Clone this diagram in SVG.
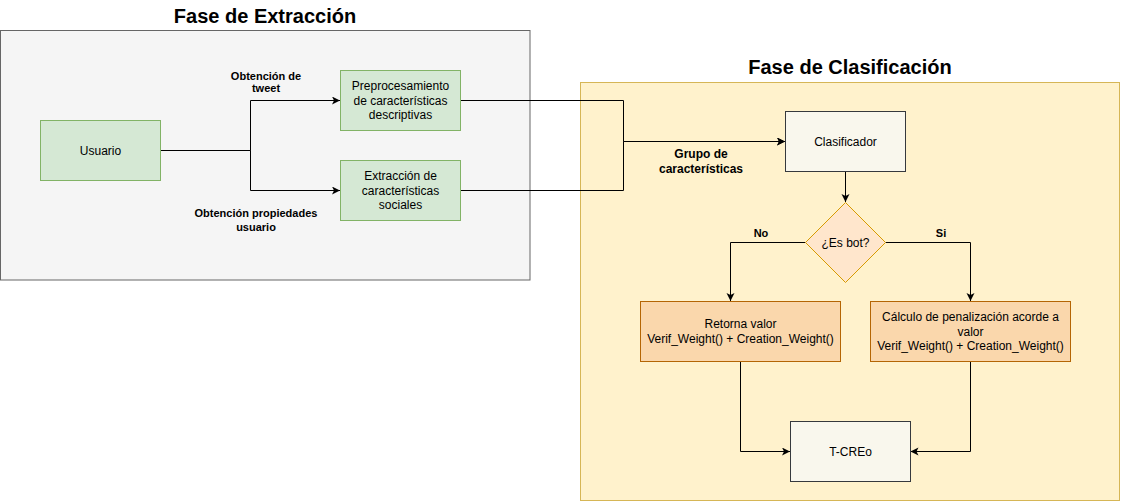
<svg xmlns="http://www.w3.org/2000/svg" width="1121" height="502" viewBox="0 0 1121 502">
<style>
.t{font-family:"Liberation Sans",Arial,Helvetica,sans-serif;font-size:12px;fill:#000;text-anchor:middle}
.lb{font-family:"Liberation Sans",Arial,Helvetica,sans-serif;font-size:11px;font-weight:bold;fill:#000;text-anchor:middle}
.lb12{font-size:12px}
.ttl{font-family:"Liberation Sans",Arial,Helvetica,sans-serif;font-size:20px;font-weight:bold;fill:#000;text-anchor:middle}
.green{fill:#d5e8d4;stroke:#82b366;stroke-width:1}
.grey{fill:#f9f7ed;stroke:#36393d;stroke-width:1}
.orange{fill:#fad7ac;stroke:#b46504;stroke-width:1}
.edge{fill:none;stroke:#000;stroke-width:1}
</style>
<defs>
<marker id="arr" markerUnits="userSpaceOnUse" markerWidth="10" markerHeight="10" refX="8" refY="4" orient="auto">
<path d="M0,0 L8,4 L0,8 L2,4 Z" fill="#000"/>
</marker>
</defs>
<g id="fase-extraccion">
<rect x="0.5" y="30.5" width="529.5" height="249.5" fill="#f5f5f5" stroke="#666666"/>
<text class="ttl" x="265" y="23">Fase de Extracción</text>
</g>
<g id="fase-clasificacion">
<rect x="580.5" y="82.5" width="539" height="418" fill="#fff2cc" stroke="#d6b656"/>
<text class="ttl" x="850" y="74">Fase de Clasificación</text>
</g>
<g id="connectors">
<path class="edge" d="M160.5,150.5 H250.5 V100.5 H340" marker-end="url(#arr)"/>
<path class="edge" d="M160.5,150.5 H250.5 V190.5 H340" marker-end="url(#arr)"/>
<path class="edge" d="M460.5,100.5 H623.5 V141.5 H785" marker-end="url(#arr)"/>
<path class="edge" d="M460.5,190.5 H623.5 V141.5 H785" marker-end="url(#arr)"/>
<path class="edge" d="M845.5,171.5 V202" marker-end="url(#arr)"/>
<path class="edge" d="M805.5,242.5 H730.5 V301" marker-end="url(#arr)"/>
<path class="edge" d="M885.5,242.5 H970.5 V301" marker-end="url(#arr)"/>
<path class="edge" d="M740.5,361.5 V451.5 H790" marker-end="url(#arr)"/>
<path class="edge" d="M970.5,361.5 V451.5 H910.5" marker-end="url(#arr)"/>
<text class="lb" x="266" y="80">Obtención de</text>
<text class="lb" x="266" y="92">tweet</text>
<text class="lb" x="256" y="217">Obtención propiedades</text>
<text class="lb" x="256" y="231">usuario</text>
<text class="lb lb12" x="701" y="158">Grupo de</text>
<text class="lb lb12" x="701" y="172.5">características</text>
<text class="lb" x="761" y="237">No</text>
<text class="lb" x="941" y="237">Si</text>
</g>
<g id="usuario">
<rect class="green" x="40.5" y="120.5" width="120" height="60"/>
<text class="t" x="100.5" y="155">Usuario</text>
</g>
<g id="preprocesamiento">
<rect class="green" x="340.5" y="70.5" width="120" height="60"/>
<text class="t" x="400.5" y="90">Preprocesamiento</text>
<text class="t" x="400.5" y="104.5">de características</text>
<text class="t" x="400.5" y="119">descriptivas</text>
</g>
<g id="extraccion">
<rect class="green" x="340.5" y="160.5" width="120" height="60"/>
<text class="t" x="400.5" y="180">Extracción de</text>
<text class="t" x="400.5" y="194.5">características</text>
<text class="t" x="400.5" y="209">sociales</text>
</g>
<g id="clasificador">
<rect class="grey" x="785.5" y="111.5" width="120" height="60"/>
<text class="t" x="845.5" y="146">Clasificador</text>
</g>
<g id="es-bot">
<path d="M845.5,202.5 L885.5,242.5 L845.5,282.5 L805.5,242.5 Z" fill="#ffe6cc" stroke="#d79b00"/>
<text class="t" x="845.5" y="247">¿Es bot?</text>
</g>
<g id="retorna">
<rect class="orange" x="640.5" y="301.5" width="200" height="60"/>
<text class="t" x="740.5" y="328">Retorna valor</text>
<text class="t" x="740.5" y="342.5">Verif_Weight() + Creation_Weight()</text>
</g>
<g id="calculo">
<rect class="orange" x="870.5" y="301.5" width="200" height="60"/>
<text class="t" x="970.5" y="321">Cálculo de penalización acorde a</text>
<text class="t" x="970.5" y="335.5">valor</text>
<text class="t" x="970.5" y="350">Verif_Weight() + Creation_Weight()</text>
</g>
<g id="tcreo">
<rect class="grey" x="790.5" y="421.5" width="120" height="60"/>
<text class="t" x="850.5" y="456">T-CREo</text>
</g>
</svg>
